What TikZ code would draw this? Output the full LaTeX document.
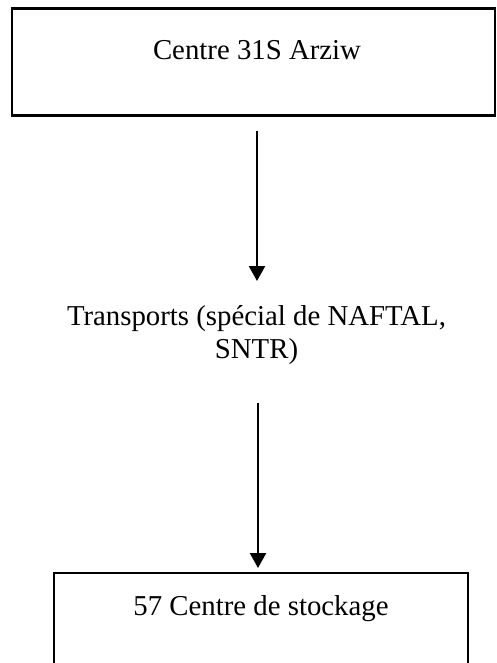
\documentclass[tikz,border=0pt]{standalone}
\usepackage{fontspec}
\setmainfont{Liberation Serif}
\usetikzlibrary{arrows.meta}
\begin{document}
\begin{tikzpicture}[x=1pt,y=-1pt,
  boxstyle/.style={draw=black,line width=2.4pt,inner sep=0pt},
  txt/.style={font=\fontsize{28.8}{33}\selectfont,inner sep=0pt,anchor=base},
  arr/.style={line width=2.4pt,-{Triangle[width=16pt,length=15pt]}}]
\useasboundingbox (0,0) rectangle (497,663);
\clip (0,0) rectangle (497,663);
\fill[white] (0,0) rectangle (497,663);
% top box
\node[boxstyle,minimum width=483.3pt,minimum height=107pt] (topbox) at (253.35,62.2) {};
\node[txt] (toptext) at (257,60) {Centre 31S Arziw};
% transport text
\node[txt] (trans1) at (256.5,325) {Transports (spécial de NAFTAL,};
\node[txt] (trans2) at (256.5,358) {SNTR)};
% bottom box
\node[boxstyle,minimum width=414pt,minimum height=150pt] (botbox) at (261,648) {};
\node[txt] (bottext) at (261,615) {57 Centre de stockage};
% arrows
\coordinate (a1s) at (257,131);
\coordinate (a1e) at (257,281);
\coordinate (a2s) at (258,403);
\coordinate (a2e) at (258,568);
\draw[arr] (a1s) -- (a1e);
\draw[arr] (a2s) -- (a2e);
\end{tikzpicture}
\end{document}
